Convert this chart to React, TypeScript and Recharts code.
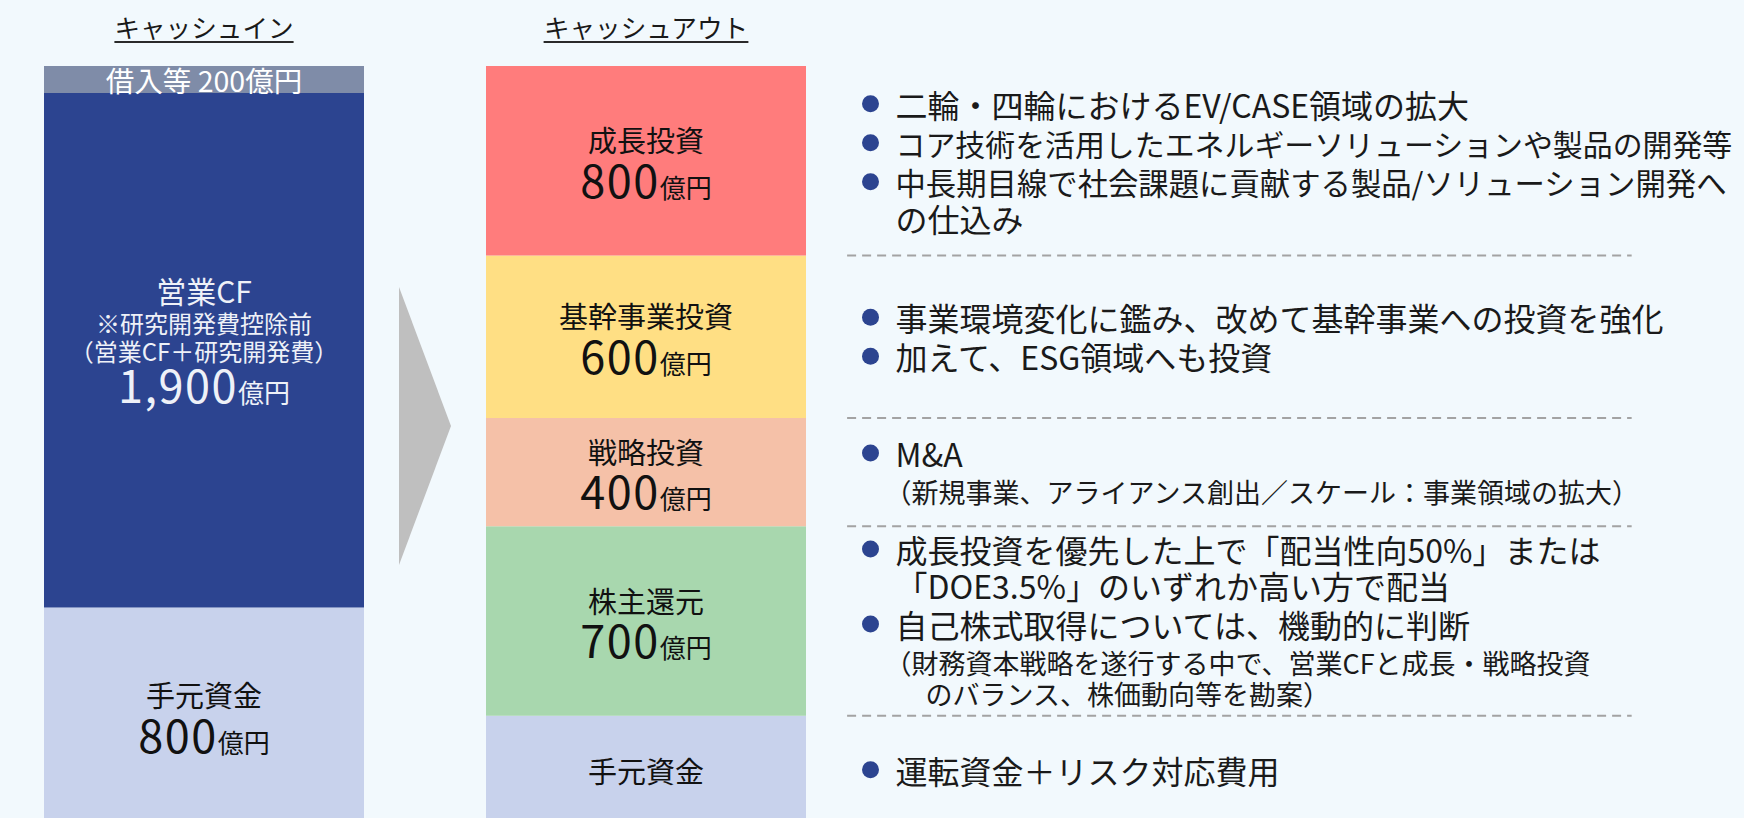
import React from "react";
import { BarChart, Bar, XAxis, YAxis, LabelList, ReferenceLine } from "recharts";

const FONT = "'Noto Sans CJK JP', 'Noto Sans', sans-serif";
// distance from the central baseline down to the alphabetic one, in em (Noto Sans CJK)
const CENTRAL = 0.436;

const SIDE_TITLES = ["キャッシュイン", "キャッシュアウト"];

// キャッシュイン, bottom -> top (億円)
const IN_KEYS = ["inCash", "opCF", "borrow"];
const IN_NAMES = ["手元資金", "営業CF", "借入等"];
const IN_VALUES = [800, 1900, 200];
const IN_COLORS = ["#c8d2ec", "#2c4490", "#7f8ca8"];
const IN_TEXT = ["#111111", "#eef1f8", "#ffffff"];
const OP_CF_NOTES = ["※研究開発費控除前", "（営業CF＋研究開発費）"];

// キャッシュアウト, bottom -> top (億円)
const OUT_KEYS = ["outCash", "returns", "strategic", "core", "growth"];
const OUT_NAMES = ["手元資金", "株主還元", "戦略投資", "基幹事業投資", "成長投資"];
const OUT_VALUES = [400, 700, 400, 600, 800];
const OUT_SHOW_VALUE = [false, true, true, true, true];
const OUT_COLORS = ["#c8d2ec", "#a8d7ae", "#f5c1a8", "#ffdf84", "#ff7c7c"];

type NoteKind = "bullet" | "cont" | "sub" | "subIndent";
type NoteLine = { text: string; kind: NoteKind };

const OUT_NOTES: NoteLine[][] = [
  [{ text: "運転資金＋リスク対応費用", kind: "bullet" }],
  [
    { text: "成長投資を優先した上で「配当性向50%」または", kind: "bullet" },
    { text: "「DOE3.5%」のいずれか高い方で配当", kind: "cont" },
    { text: "自己株式取得については、機動的に判断", kind: "bullet" },
    { text: "（財務資本戦略を遂行する中で、営業CFと成長・戦略投資", kind: "sub" },
    { text: "のバランス、株価動向等を勘案）", kind: "subIndent" },
  ],
  [
    { text: "M&A", kind: "bullet" },
    { text: "（新規事業、アライアンス創出／スケール：事業領域の拡大）", kind: "sub" },
  ],
  [
    { text: "事業環境変化に鑑み、改めて基幹事業への投資を強化", kind: "bullet" },
    { text: "加えて、ESG領域へも投資", kind: "bullet" },
  ],
  [
    { text: "二輪・四輪におけるEV/CASE領域の拡大", kind: "bullet" },
    { text: "コア技術を活用したエネルギーソリューションや製品の開発等", kind: "bullet" },
    { text: "中長期目線で社会課題に貢献する製品/ソリューション開発へ", kind: "bullet" },
    { text: "の仕込み", kind: "cont" },
  ],
];

const data = [0, 1].map((side) => {
  const row: Record<string, number> = { side };
  const keys = side === 0 ? IN_KEYS : OUT_KEYS;
  const vals = side === 0 ? IN_VALUES : OUT_VALUES;
  keys.forEach((k, i) => (row[k] = vals[i]));
  return row;
});

// boundaries between the out segments, where the dashed dividers go
const dividers = OUT_VALUES.slice(0, -1).map((_, i) =>
  OUT_VALUES.slice(0, i + 1).reduce((a, b) => a + b, 0)
);

const PAGE_W = 1744;
const PAGE_H = 818;
const CHART_H = 830;
const AXIS_H = 60;
const MARGIN = { top: 6, right: 37.2, left: 27.2, bottom: 6 };
const PLOT_TOP = MARGIN.top + AXIS_H;
const DIVIDER_X = [1.455, 3.23];
const NOTE_MAX_W = 838;

const fmt = (v: number) => v.toLocaleString("en-US");
const base = (centerY: number, size: number) => centerY + CENTRAL * size;

// eslint-disable-next-line @typescript-eslint/no-explicit-any
const rectOf = (p: any) => {
  const vb = p.viewBox && typeof p.viewBox.x === "number" ? p.viewBox : p;
  const x = Number(vb.x);
  const y = Number(vb.y);
  const w = Number(vb.width);
  const h = Number(vb.height);
  // the top segments run past the axis max and are clipped there
  const cy = (Math.max(y, PLOT_TOP) + y + h) / 2;
  return { x, y, w, h, cx: x + w / 2, cy };
};

// one <text> per block: name lines first, then "800億円"
const BarLabel = ({
  cx,
  lines,
  value,
  valueY,
  fill,
}: {
  cx: number;
  lines: { text: string; y: number; size: number }[];
  value?: number;
  valueY?: number;
  fill: string;
}) => (
  <text textAnchor="middle" fill={fill} fontFamily={FONT}>
    {lines.map((l, k) => (
      <tspan key={k} x={cx} y={base(l.y, l.size)} fontSize={l.size}>
        {l.text}
      </tspan>
    ))}
    {value != null && valueY != null && (
      <>
        <tspan x={cx} y={valueY} fontSize={45} letterSpacing={1.5}>
          {fmt(value)}
        </tspan>
        <tspan fontSize={26}>億円</tspan>
      </>
    )}
  </text>
);

const emCount = (s: string) =>
  [...s].reduce((a, ch) => a + (ch.charCodeAt(0) < 0x2000 ? 0.6 : 1), 0);

const lineStep = (prev: NoteKind, cur: NoteKind) => {
  if (cur === "bullet") return 39;
  if (cur === "cont") return 36;
  if (cur === "sub") return prev === "sub" ? 31 : 38;
  return 31;
};

const Notes = ({ lines, left, cy }: { lines: NoteLine[]; left: number; cy: number }) => {
  const ys: number[] = [0];
  for (let i = 1; i < lines.length; i++) ys.push(ys[i - 1] + lineStep(lines[i - 1].kind, lines[i].kind));
  const shift = cy - ys[ys.length - 1] / 2;
  return (
    <g>
      {lines.map((ln, i) =>
        ln.kind === "bullet" ? <circle key={i} cx={left} cy={ys[i] + shift} r={8.5} fill="#2c4490" /> : null
      )}
      <text fill="#1a1a1a" fontFamily={FONT}>
        {lines.map((ln, i) => {
          const isSub = ln.kind === "sub" || ln.kind === "subIndent";
          const size = Math.min(isSub ? 27 : 32, NOTE_MAX_W / emCount(ln.text));
          const tx = left + (ln.kind === "sub" ? 14 : ln.kind === "subIndent" ? 55 : 25);
          return (
            <tspan key={i} x={tx} y={base(ys[i] + shift, size)} fontSize={size}>
              {ln.text}
            </tspan>
          );
        })}
      </text>
    </g>
  );
};

// eslint-disable-next-line @typescript-eslint/no-explicit-any
const makeInLabel = (i: number) => (p: any) => {
  if (!p.value) return null;
  const { cx, cy } = rectOf(p);
  const fill = IN_TEXT[i];
  if (IN_KEYS[i] === "borrow") {
    return (
      <BarLabel cx={cx} fill={fill} lines={[{ text: `${IN_NAMES[i]} ${fmt(p.value)}億円`, y: cy, size: 28.5 }]} />
    );
  }
  if (IN_KEYS[i] === "opCF") {
    return (
      <BarLabel
        cx={cx}
        fill={fill}
        lines={[
          { text: IN_NAMES[i], y: cy - 60, size: 30 },
          ...OP_CF_NOTES.map((t, k) => ({ text: t, y: cy - 28 + k * 28, size: 24 })),
        ]}
        value={p.value}
        valueY={cy + 53}
      />
    );
  }
  return (
    <BarLabel cx={cx} fill={fill} lines={[{ text: IN_NAMES[i], y: cy - 21, size: 29 }]} value={p.value} valueY={cy + 37} />
  );
};

// eslint-disable-next-line @typescript-eslint/no-explicit-any
const makeOutLabel = (i: number) => (p: any) => {
  if (!p.value) return null;
  const { x, w, cx, cy } = rectOf(p);
  return (
    <g>
      {OUT_SHOW_VALUE[i] ? (
        <BarLabel cx={cx} fill="#111" lines={[{ text: OUT_NAMES[i], y: cy - 21, size: 29 }]} value={p.value} valueY={cy + 37} />
      ) : (
        <BarLabel cx={cx} fill="#111" lines={[{ text: OUT_NAMES[i], y: cy, size: 29 }]} />
      )}
      <Notes lines={OUT_NOTES[i]} left={x + w + 64.5} cy={cy} />
    </g>
  );
};

// eslint-disable-next-line @typescript-eslint/no-explicit-any
const TitleTick = (p: any) => {
  const label = SIDE_TITLES[p.payload?.value] ?? "";
  const size = 25.6;
  const w = [...label].length * size;
  return (
    <g>
      <text x={p.x} y={p.y - 28} textAnchor="middle" fontSize={size} fill="#1a1a1a" fontFamily={FONT}>
        {label}
      </text>
      <line x1={p.x - w / 2} x2={p.x + w / 2} y1={p.y - 24} y2={p.y - 24} stroke="#2a2a2a" strokeWidth={2} />
    </g>
  );
};

export default function App() {
  return (
    <div
      style={{
        position: "fixed",
        left: 0,
        top: 0,
        width: PAGE_W,
        height: PAGE_H,
        overflow: "hidden",
        background: "#f2f9fd",
        fontFamily: FONT,
      }}
    >
      <BarChart width={PAGE_W} height={CHART_H} data={data} margin={MARGIN} barSize={320}>
        <XAxis
          type="number"
          dataKey="side"
          domain={[-0.4, 3.4]}
          ticks={[0, 1]}
          interval={0}
          orientation="top"
          height={AXIS_H}
          axisLine={false}
          tickLine={false}
          tickSize={0}
          tickMargin={0}
          tick={TitleTick}
        />
        <YAxis hide type="number" domain={[0, 2800]} allowDataOverflow />
        {dividers.map((v) => (
          <ReferenceLine
            key={v}
            segment={[
              { x: DIVIDER_X[0], y: v },
              { x: DIVIDER_X[1], y: v },
            ]}
            stroke="#a3a3a3"
            strokeWidth={2}
            strokeDasharray="9 6"
            ifOverflow="visible"
          />
        ))}
        {IN_KEYS.map((k, i) => (
          <Bar key={k} dataKey={k} stackId="flow" fill={IN_COLORS[i]} barSize={320} isAnimationActive={false}>
            <LabelList dataKey={k} content={makeInLabel(i)} />
          </Bar>
        ))}
        {OUT_KEYS.map((k, i) => (
          <Bar key={k} dataKey={k} stackId="flow" fill={OUT_COLORS[i]} barSize={320} isAnimationActive={false}>
            <LabelList dataKey={k} content={makeOutLabel(i)} />
          </Bar>
        ))}
      </BarChart>
      <svg width={PAGE_W} height={PAGE_H} style={{ position: "absolute", left: 0, top: 0, pointerEvents: "none" }}>
        <polygon points="399,287 451,426 399,565" fill="#bfbfbf" />
      </svg>
    </div>
  );
}
